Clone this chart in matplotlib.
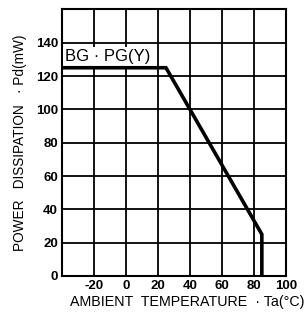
import numpy as np
import matplotlib.pyplot as plt

# derating curve
temp = [-40, 25, 85, 85]
power = [125, 125, 25, 0]

xticks = [-20, 0, 20, 40, 60, 80, 100]
yticks = [0, 20, 40, 60, 80, 100, 120, 140]

plt.rcParams['font.family'] = ['Liberation Sans', 'DejaVu Sans']

fig = plt.figure(figsize=(3.06, 3.15), dpi=100)
ax = fig.add_axes([0.203, 0.124, 0.731, 0.846])

ax.set_xlim(-40, 100)
ax.set_ylim(0, 160)
ax.set_xticks(xticks)
ax.set_yticks(yticks)
ax.set_xticklabels([str(t) for t in xticks], fontsize=9.5, fontweight='bold')
ax.set_yticklabels([str(t) for t in yticks], fontsize=9.5, fontweight='bold')
ax.tick_params(length=0, pad=3)
ax.grid(True, color='black', linewidth=1.3)
ax.set_axisbelow(True)
for s in ax.spines.values():
    s.set_linewidth(1.5)
    s.set_color('black')

ax.plot(temp, power, color='black', linewidth=2.6, solid_joinstyle='miter', zorder=4)

ax.text(-38.5, 132, 'BG \u00b7 PG(Y)', fontsize=12, va='center', ha='left', zorder=3,
        bbox=dict(facecolor='white', edgecolor='none', pad=1.5))

fig.text(0.995, 0.04, 'AMBIENT  TEMPERATURE  \u00b7 Ta(\u00b0C)', fontsize=10.3,
         ha='right', va='center')
ax.set_ylabel('POWER   DISSIPATION   \u00b7 Pd(mW)', fontsize=9.8, labelpad=6)

fig.savefig('out.png', dpi=100)
